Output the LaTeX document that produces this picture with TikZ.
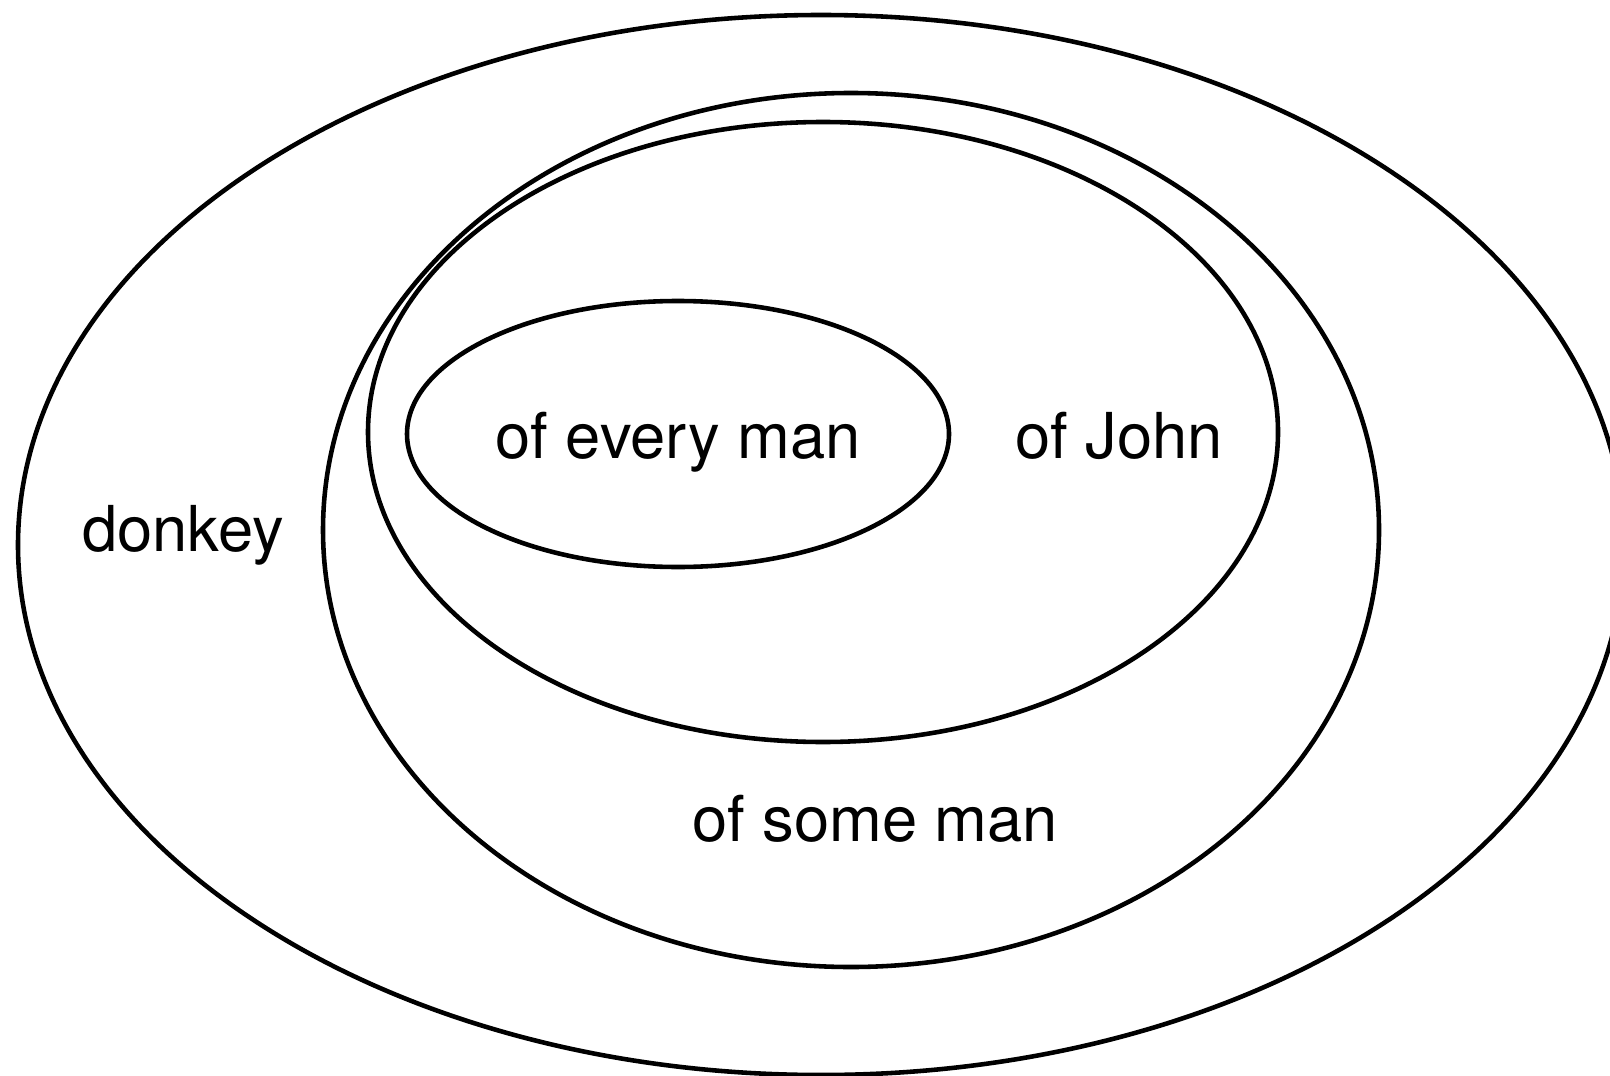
\documentclass[tikz,border=0pt]{standalone}
\usepackage{fontspec}
\setmainfont{TeX Gyre Heros}
\usepackage{tikz}
\usetikzlibrary{positioning}

\begin{document}
\begin{tikzpicture}[x=0.01cm, y=0.01cm,
    set/.style={draw, line width=1.3pt},
    lab/.style={font=\fontsize{18}{20}\selectfont, inner sep=0pt}]
  \useasboundingbox (0,0) rectangle (1610,1075);
  \clip (0,0) rectangle (1610,1075);
  \draw[set] (821,530) ellipse [x radius=803, y radius=530];
  \draw[set] (851,545) ellipse [x radius=528, y radius=437];
  \draw[set] (823,643) ellipse [x radius=455, y radius=310];
  \draw[set] (678,641) ellipse [x radius=271, y radius=133];
  \node[lab] (every) at (678,633) {of every man};
  \node[lab] (john) at (1119,639) {of John};
  \node[lab] (donkey) at (183,540) {donkey};
  \node[lab] (some) at (875,256) {of some man};
\end{tikzpicture}
\end{document}
